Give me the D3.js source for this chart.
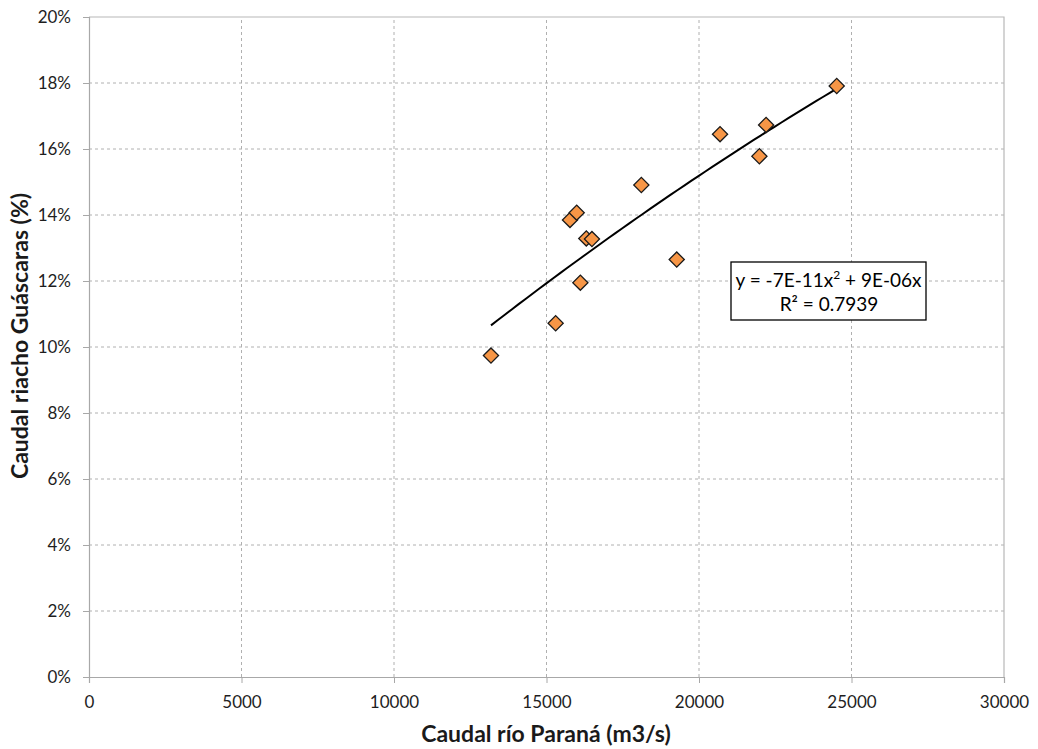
<!DOCTYPE html>
<html>
<head>
<meta charset="utf-8">
<script src="https://cdn.jsdelivr.net/npm/d3@7"></script>
<style>
  body { margin: 0; background: #fff; }
  svg { display: block; font-family: Lato, "Open Sans", sans-serif; }
</style>
</head>
<body>
<div id="chart"></div>
<script>
// caudal rio Parana (m3/s) vs caudal riacho Guascaras (%)
var caudalParana = [13180, 15300, 16110, 15770, 15990, 16305, 16490, 18110, 19270, 20690, 22200, 21980, 24515];
var caudalRiacho = [0.0974, 0.1072, 0.1195, 0.1385, 0.1407, 0.1329, 0.1327, 0.1491, 0.1265, 0.1645, 0.1673, 0.1578, 0.1791];
var xTicks = [0, 5000, 10000, 15000, 20000, 25000, 30000];
var yTicks = [0, 0.02, 0.04, 0.06, 0.08, 0.10, 0.12, 0.14, 0.16, 0.18, 0.20];
var ecuacion = ['y = -7E-11x', '2', ' + 9E-06x'];
var r2Texto = 'R² = 0.7939';

var W = 1038, H = 749;
var m = { left: 89, right: 34, top: 17, bottom: 72 };

var svg = d3.select('#chart').append('svg').attr('width', W).attr('height', H);

var x = d3.scaleLinear().domain([0, 30000]).range([m.left, W - m.right]);
var y = d3.scaleLinear().domain([0, 0.20]).range([H - m.bottom, m.top]);

// grid
var grid = svg.append('g');
grid.selectAll('.gx').data(xTicks.slice(1, -1)).enter().append('line')
  .attr('x1', function (d) { return x(d); }).attr('x2', function (d) { return x(d); })
  .attr('y1', y(0)).attr('y2', y(0.20))
  .attr('stroke', '#b0b0b0').attr('stroke-dasharray', '3,3');
grid.selectAll('.gy').data(yTicks.slice(1, -1)).enter().append('line')
  .attr('y1', function (d) { return y(d); }).attr('y2', function (d) { return y(d); })
  .attr('x1', x(0)).attr('x2', x(30000))
  .attr('stroke', '#b0b0b0').attr('stroke-dasharray', '3,3');

// plot border top/right
svg.append('path')
  .attr('d', 'M' + x(0) + ',' + y(0.20) + 'H' + x(30000) + 'V' + y(0))
  .attr('fill', 'none').attr('stroke', '#b8b8b8').attr('stroke-width', 1.2);

// axes
var xAxis = svg.append('g').attr('transform', 'translate(0,' + y(0) + ')')
  .call(d3.axisBottom(x).tickValues(xTicks).tickSize(6).tickPadding(13).tickFormat(d3.format('d')));
var yAxis = svg.append('g').attr('transform', 'translate(' + x(0) + ',0)')
  .call(d3.axisLeft(y).tickValues(yTicks).tickSize(6).tickPadding(12).tickFormat(d3.format('.0%')));
[xAxis, yAxis].forEach(function (a) {
  a.select('.domain').attr('stroke', '#a8a8a8').attr('stroke-width', 1.2);
  a.selectAll('.tick line').attr('stroke', '#a8a8a8');
  a.selectAll('.tick text').attr('fill', '#1e1e1e').style('font-size', '17px')
    .style('font-family', 'Lato, "Open Sans", sans-serif');
});

// trend line: least squares y = a*x^2 + b*x (through origin)
var s2 = 0, s3 = 0, s4 = 0, sy1 = 0, sy2 = 0;
caudalParana.forEach(function (xv, i) {
  var yv = caudalRiacho[i];
  s2 += xv * xv; s3 += xv * xv * xv; s4 += xv * xv * xv * xv;
  sy1 += xv * yv; sy2 += xv * xv * yv;
});
var det = s4 * s2 - s3 * s3;
var a = (sy2 * s2 - sy1 * s3) / det;
var b = (s4 * sy1 - s3 * sy2) / det;
var xMin = d3.min(caudalParana), xMax = d3.max(caudalParana);
var trend = d3.range(0, 51).map(function (k) {
  var xv = xMin + (xMax - xMin) * k / 50;
  return [xv, a * xv * xv + b * xv];
});
svg.append('path').datum(trend)
  .attr('d', d3.line().x(function (d) { return x(d[0]); }).y(function (d) { return y(d[1]); }))
  .attr('fill', 'none').attr('stroke', '#000').attr('stroke-width', 2);

// points
var diamond = d3.symbol().type(d3.symbolSquare).size(115);
svg.append('g').selectAll('path').data(caudalParana).enter().append('path')
  .attr('d', diamond)
  .attr('transform', function (d, i) { return 'translate(' + x(d) + ',' + y(caudalRiacho[i]) + ') rotate(45)'; })
  .attr('fill', '#F79646').attr('stroke', '#1a1a1a').attr('stroke-width', 1.3);

// equation box
var box = svg.append('g');
box.append('rect').attr('x', 731).attr('y', 262).attr('width', 195).attr('height', 58)
  .attr('fill', '#fff').attr('stroke', '#000').attr('stroke-width', 1.3);
var eq = box.append('text').attr('x', 828.5).attr('y', 287).attr('text-anchor', 'middle')
  .style('font-size', '19px').attr('fill', '#000');
eq.append('tspan').text(ecuacion[0]);
eq.append('tspan').attr('dy', -8).style('font-size', '12px').text(ecuacion[1]);
eq.append('tspan').attr('dy', 8).text(ecuacion[2]);
box.append('text').attr('x', 829).attr('y', 311).attr('text-anchor', 'middle')
  .style('font-size', '19px').attr('fill', '#000').text(r2Texto);

// axis titles
svg.append('text').attr('x', 546).attr('y', 742).attr('text-anchor', 'middle')
  .style('font-size', '23px').style('font-weight', 'bold').attr('fill', '#1a1a1a')
  .text('Caudal río Paraná (m3/s)');
svg.append('text').attr('transform', 'translate(28,' + 336 + ') rotate(-90)').attr('text-anchor', 'middle')
  .style('font-size', '23px').style('font-weight', 'bold').attr('fill', '#1a1a1a')
  .text('Caudal riacho Guáscaras (%)');
</script>
</body>
</html>
